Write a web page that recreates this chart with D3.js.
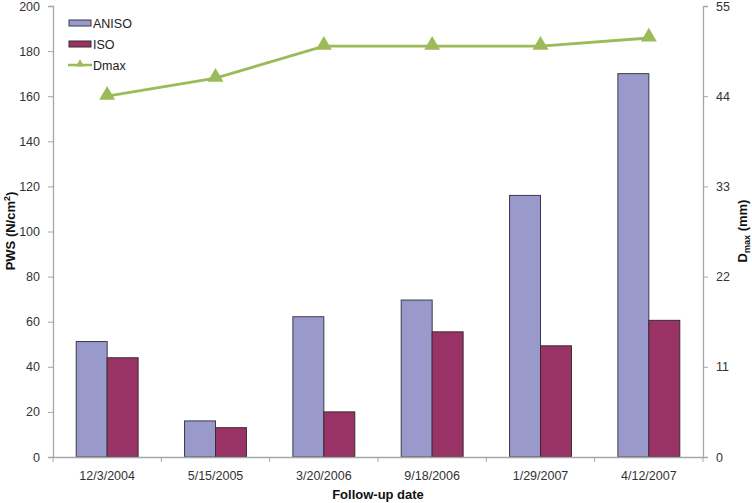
<!DOCTYPE html>
<html><head><meta charset="utf-8">
<script src="https://cdn.jsdelivr.net/npm/d3@7"></script>
<style>body{margin:0;background:#fff}svg{display:block;font-family:"Liberation Sans",Arial,sans-serif}</style>
</head><body><svg id="c" width="752" height="503"></svg>
<script>
const categories = ["12/3/2004","5/15/2005","3/20/2006","9/18/2006","1/29/2007","4/12/2007"];
const aniso = [51.2, 16, 62.2, 69.6, 116, 170];
const iso = [44, 13, 20, 55.5, 49.3, 60.6];
const dmax = [44, 46.2, 50.1, 50.1, 50.1, 51.1];
const leftTicks = [0,20,40,60,80,100,120,140,160,180,200];
const rightTicks = [0,11,22,33,44,55];
const seriesNames = ["ANISO","ISO","Dmax"];

const svg = d3.select("#c");
const L = 53, R = 703, T = 6, B = 457;
const x = d3.scaleBand().domain(categories).range([L, R]).paddingInner(0).paddingOuter(0);
const yL = d3.scaleLinear().domain([0,200]).range([B, T]);
const yR = d3.scaleLinear().domain([0,55]).range([B, T]);
const bw = x.bandwidth() * 2/7;
const axisCol = "#a6a6a6", textCol = "#333";

// bars
const g = svg.append("g");
categories.forEach((c,i)=>{
  const cx = x(c) + x.bandwidth()/2;
  g.append("rect").attr("x", cx - bw).attr("y", yL(aniso[i])).attr("width", bw).attr("height", B - yL(aniso[i]))
    .attr("fill","#9999cc").attr("stroke","#3a3a4a").attr("stroke-width",1);
  g.append("rect").attr("x", cx).attr("y", yL(iso[i])).attr("width", bw).attr("height", B - yL(iso[i]))
    .attr("fill","#993366").attr("stroke","#3a2a30").attr("stroke-width",1);
});

// axes
const la = svg.append("g").attr("transform",`translate(${L},0)`)
  .call(d3.axisLeft(yL).tickValues(leftTicks).tickSize(5).tickPadding(8));
const ra = svg.append("g").attr("transform",`translate(${R},0)`)
  .call(d3.axisRight(yR).tickValues(rightTicks).tickSize(5).tickPadding(8));
const ba = svg.append("g").attr("transform",`translate(0,${B})`)
  .call(d3.axisBottom(x).tickSize(0).tickPadding(14));
[la,ra,ba].forEach(a=>{
  a.selectAll(".domain").attr("stroke",axisCol).attr("stroke-width",1.3);
  a.selectAll(".tick line").attr("stroke",axisCol);
  a.selectAll("text").attr("fill",textCol).attr("font-size",12.5).attr("font-family","Liberation Sans, Arial, sans-serif");
});
// category boundary ticks
const bounds = categories.map(c=>x(c)).concat([R]);
svg.append("g").selectAll("line").data(bounds).join("line")
  .attr("x1",d=>d).attr("x2",d=>d).attr("y1",B).attr("y2",B+5).attr("stroke",axisCol);

// Dmax line
const line = d3.line().x((d,i)=>x(categories[i])+x.bandwidth()/2).y(d=>yR(d));
svg.append("path").datum(dmax).attr("d",line).attr("fill","none").attr("stroke","#9bbb59").attr("stroke-width",2.8);
const tri = d3.symbol().type(d3.symbolTriangle).size(110);
svg.append("g").selectAll("path").data(dmax).join("path")
  .attr("d",tri).attr("fill","#9bbb59")
  .attr("transform",(d,i)=>`translate(${x(categories[i])+x.bandwidth()/2},${yR(d)-1})`);

// titles
svg.append("text").attr("x",378).attr("y",499).attr("text-anchor","middle")
  .attr("font-weight","bold").attr("font-size",13).attr("fill","#111").text("Follow-up date");
const lt = svg.append("text").attr("transform","translate(15,231) rotate(-90)").attr("text-anchor","middle")
  .attr("font-weight","bold").attr("font-size",13).attr("fill","#111");
lt.append("tspan").text("PWS (N/cm");
lt.append("tspan").attr("font-size",9).attr("dy",-5).text("2");
lt.append("tspan").attr("dy",5).text(")");
const rt = svg.append("text").attr("transform","translate(747,231) rotate(-90)").attr("text-anchor","middle")
  .attr("font-weight","bold").attr("font-size",13).attr("fill","#111");
rt.append("tspan").text("D");
rt.append("tspan").attr("font-size",9).attr("dy",3).text("max");
rt.append("tspan").attr("dy",-3).text(" (mm)");

// legend
const lg = svg.append("g");
const ly = [23,44,65];
lg.append("rect").attr("x",69).attr("y",ly[0]-3).attr("width",22).attr("height",6).attr("fill","#9999cc").attr("stroke","#3a3a4a");
lg.append("rect").attr("x",69).attr("y",ly[1]-3).attr("width",22).attr("height",6).attr("fill","#993366").attr("stroke","#3a2a30");
lg.append("line").attr("x1",68).attr("x2",92).attr("y1",ly[2]).attr("y2",ly[2]).attr("stroke","#9bbb59").attr("stroke-width",2.5);
lg.append("path").attr("d",d3.symbol().type(d3.symbolTriangle).size(30)).attr("fill","#9bbb59").attr("transform",`translate(80,${ly[2]-1})`);
seriesNames.forEach((n,i)=>{
  lg.append("text").attr("x",93).attr("y",ly[i]+4.5).attr("font-size",12.5).attr("fill","#222").text(n);
});
</script></body></html>
